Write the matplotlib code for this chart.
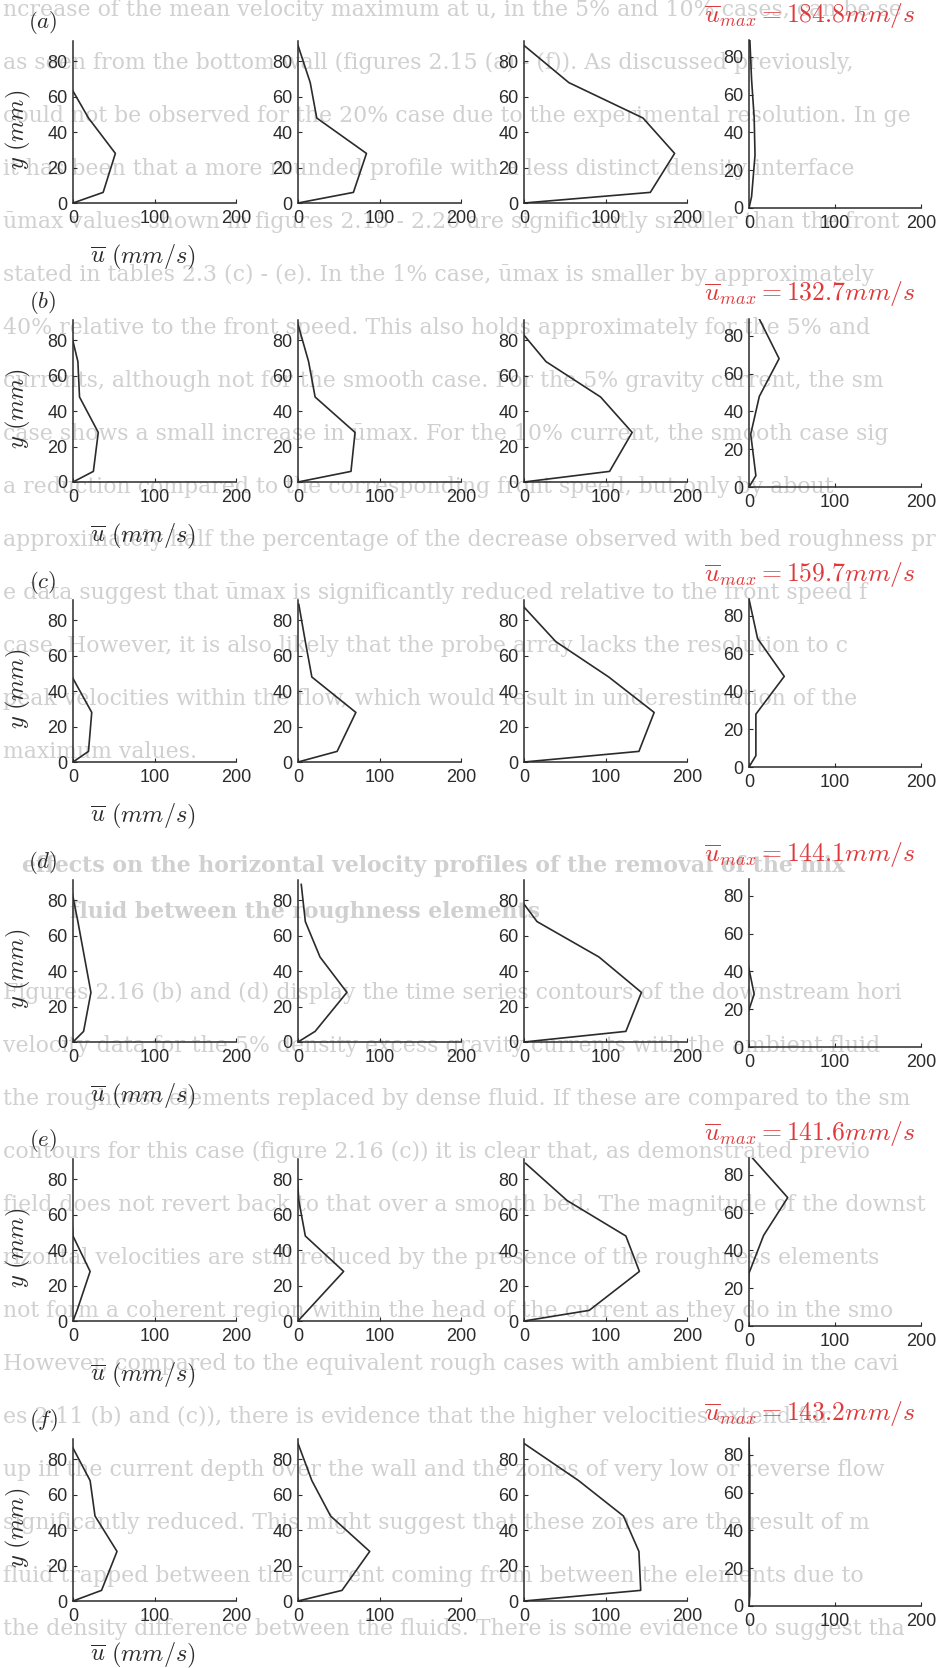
import matplotlib
matplotlib.use('Agg')
import matplotlib.pyplot as plt

plt.rcParams['mathtext.fontset'] = 'cm'
plt.rcParams['font.family'] = ['Liberation Sans', 'DejaVu Sans']

W_PX, H_PX = 944, 1668

# probe heights above the bed (mm)
heights = [0, 6, 28, 48, 68, 89]

row_tags = ['a', 'b', 'c', 'd', 'e', 'f']

# mean downstream velocity at each height (mm/s), four stations per row
u_a = [[0, 37, 52, 19, -6, -4],
       [0, 68, 84, 23, 15, 0],
       [0, 155, 184.8, 146, 55, 0],
       [0, 3, 7, 6, 3, 1]]
u_b = [[0, 25, 31, 8, 6, -5],
       [0, 65, 70, 21, 13, 0],
       [0, 105, 132.7, 94, 27, -11],
       [0, 8, 2, 12, 35, 12]]
u_c = [[0, 19, 23, -1, -5, -5],
       [0, 48, 71, 17, 9, 1],
       [0, 141, 159.7, 104, 39, -3],
       [0, 8, 8, 41, 10, 0]]
u_d = [[0, 13, 22, 14, 6, -3],
       [0, 21, 60, 27, 9, 4],
       [0, 125, 144.1, 92, 16, -18],
       [0, -10, 6, -3, -5, -5]]
u_e = [[0, 5, 21, 0, -3, -3],
       [0, 12, 56, 9, 1, -2],
       [0, 80, 141.6, 125, 53, 2],
       [0, -2, 0, 17, 45, 4]]
u_f = [[0, 35, 54, 27, 21, -3],
       [0, 54, 88, 40, 17, 0],
       [0, 143.2, 141, 122, 67, 0],
       [0, 1, 1, 1, 1, 0]]
profiles = [u_a, u_b, u_c, u_d, u_e, u_f]

x_ticks = [0, 100, 200]
y_ticks = [0, 20, 40, 60, 80]

# running text of the page behind the panels
page_lines = [
    "ncrease of the mean velocity maximum at \u016b, in the 5% and 10% cases, can be se",
    "as seen from the bottom wall (figures 2.15 (a) - (f)). As discussed previously,",
    "could not be observed for the 20% case due to the experimental resolution. In ge",
    "it has been that a more rounded profile with a less distinct density interface",
    "\u016bmax values shown in figures 2.15 - 2.20 are significantly smaller than the front",
    "stated in tables 2.3 (c) - (e). In the 1% case, \u016bmax is smaller by approximately",
    "40% relative to the front speed. This also holds approximately for the 5% and",
    "currents, although not for the smooth case. For the 5% gravity current, the sm",
    "case shows a small increase in \u016bmax. For the 10% current, the smooth case sig",
    "a reduction compared to the corresponding front speed, but only by about",
    "approximately half the percentage of the decrease observed with bed roughness pr",
    "e data suggest that \u016bmax is significantly reduced relative to the front speed f",
    "case. However, it is also likely that the probe array lacks the resolution to c",
    "peak velocities within the flow, which would result in underestimation of the",
    "maximum values.",
]
heading_lines = [
    "effects on the horizontal velocity profiles of the removal of the mix",
    "fluid between the roughness elements",
]
page_lines_2 = [
    "Figures 2.16 (b) and (d) display the time series contours of the downstream hori",
    "velocity data for the 5% density excess gravity currents with the ambient fluid",
    "the roughness elements replaced by dense fluid. If these are compared to the sm",
    "contours for this case (figure 2.16 (c)) it is clear that, as demonstrated previo",
    "field does not revert back to that over a smooth bed. The magnitude of the downst",
    "rizontal velocities are still reduced by the presence of the roughness elements",
    "not form a coherent region within the head of the current as they do in the smo",
    "However, compared to the equivalent rough cases with ambient fluid in the cavi",
    "es 2.11 (b) and (c)), there is evidence that the higher velocities extend fur",
    "up in the current depth over the wall and the zones of very low or reverse flow",
    "significantly reduced. This might suggest that these zones are the result of m",
    "fluid trapped between the current coming from between the elements due to",
    "the density difference between the fluids. There is some evidence to suggest tha",
]

ink = '#2b2b2b'
faint = '#d0d0d0'


def fx(px):
    return px / W_PX


def fy(py):
    return 1 - py / H_PX


fig = plt.figure(figsize=(W_PX / 100, H_PX / 100), dpi=100, facecolor='white')

for i, line in enumerate(page_lines):
    fig.text(fx(3), fy(10 + 53 * i), line, fontsize=15.8, family='DejaVu Serif',
             color=faint, va='center', ha='left', zorder=-1)
for i, line in enumerate(heading_lines):
    fig.text(fx(22 if i == 0 else 70), fy(866 + 46 * i), line, fontsize=15.8,
             family='DejaVu Serif', weight='bold', color=faint, va='center', zorder=-1)
for i, line in enumerate(page_lines_2):
    fig.text(fx(3), fy(993 + 53 * i), line, fontsize=15.8, family='DejaVu Serif',
             color=faint, va='center', ha='left', zorder=-1)

# panel geometry in pixels
col_left = [73, 298, 524, 749]
row_base = [203, 482, 762, 1042, 1321, 1601]

for r, tag in enumerate(row_tags):
    base = row_base[r]
    for c in range(4):
        if c < 3:
            w, h, ytop, b = 163, 162, 91.5, base
        else:
            w, h, ytop, b = 172, 168, 89, base + 5
        ax = fig.add_axes([fx(col_left[c]), fy(b), w / W_PX, h / H_PX])
        ax.patch.set_alpha(0)
        ax.plot(profiles[r][c], heights, color=ink, lw=1.2)
        ax.set_xlim(0, 200)
        ax.set_ylim(0, ytop)
        ax.set_xticks(x_ticks)
        ax.set_yticks(y_ticks)
        for s in ['top', 'right']:
            ax.spines[s].set_visible(False)
        for s in ['left', 'bottom']:
            ax.spines[s].set_linewidth(1.1)
            ax.spines[s].set_color(ink)
        ax.tick_params(direction='in', length=3, width=0.8, labelsize=13,
                       colors=ink)
        ax.tick_params(axis='x', pad=5)
        ax.tick_params(axis='y', pad=4)

    fig.text(fx(43), fy(base - 180), r'$(%s)$' % tag, fontsize=16.5,
             ha='center', va='center', color=ink)
    fig.text(fx(18), fy(base - 73), r'$y\ (mm)$', fontsize=17.5, rotation=90,
             ha='center', va='center', color=ink)
    fig.text(fx(143), fy(base + 54), r'$\overline{u}\ (mm/s)$', fontsize=17.5,
             ha='center', va='center', color=ink)

    umax = max(max(p) for p in profiles[r])
    fig.text(fx(915), fy(base + 5 - 193), r'$\overline{u}_{max} = %.1f mm/s$' % umax,
             fontsize=18.5, ha='right', va='center', color='#e0393b')

fig.savefig('out.png', dpi=100, facecolor='white')
